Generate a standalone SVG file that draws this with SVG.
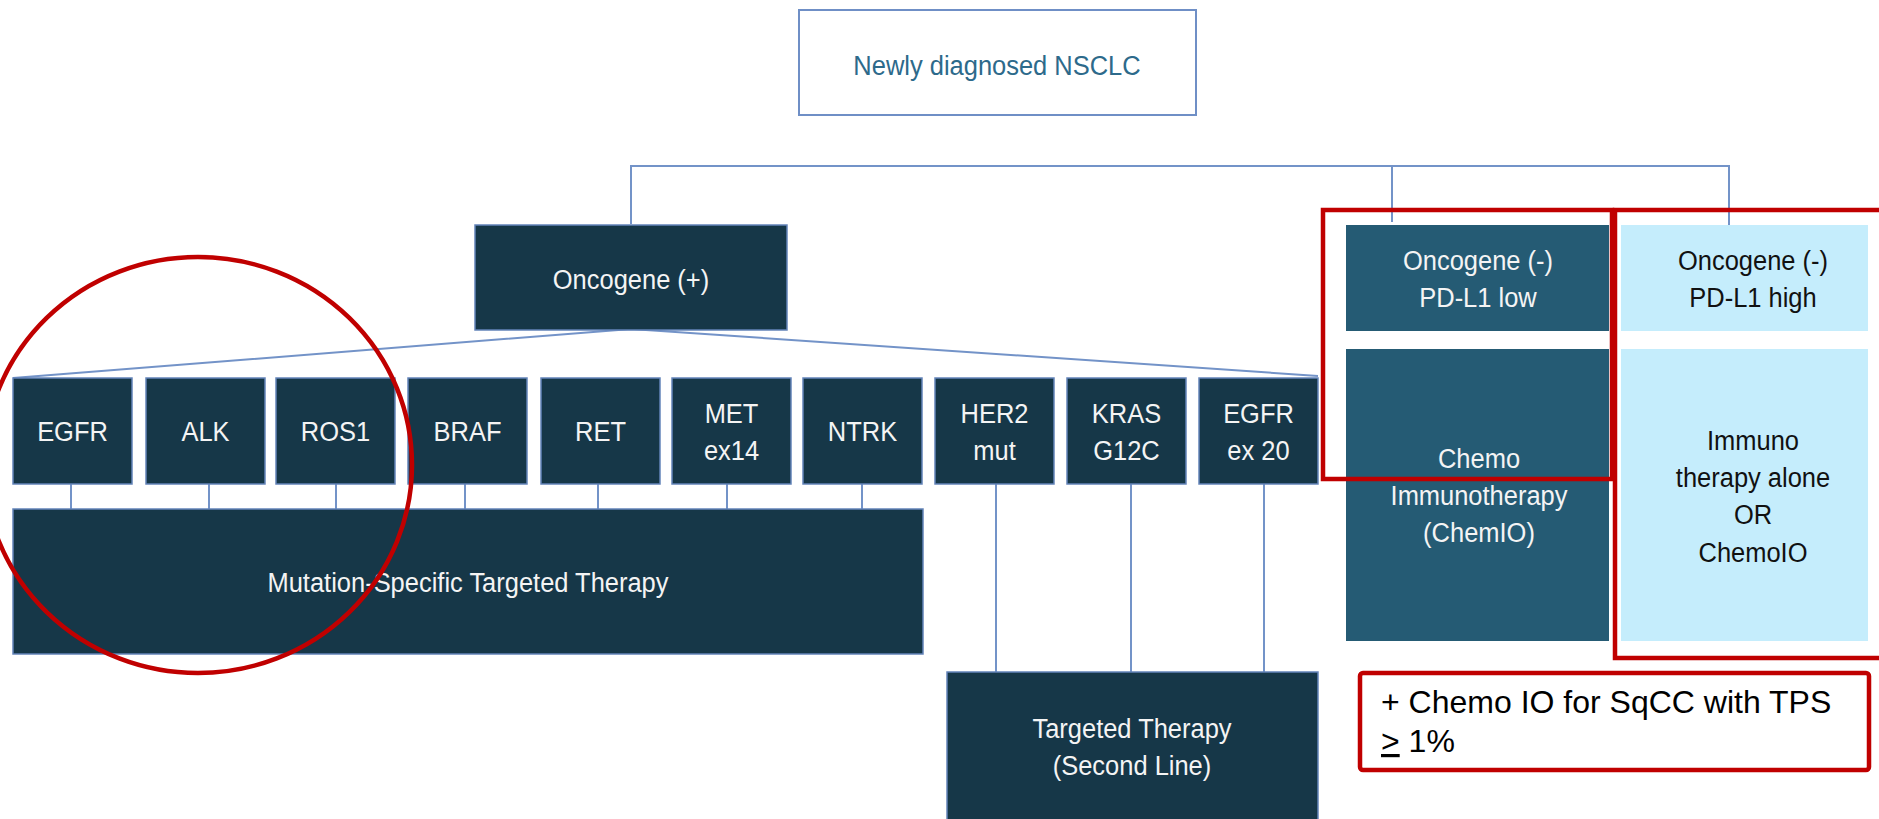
<svg xmlns="http://www.w3.org/2000/svg" width="1879" height="819" viewBox="0 0 1879 819">
  <style>
    .bg { fill: #ffffff; }
    .conn { fill: none; stroke: #7393c8; stroke-width: 2; }
    .dark { fill: #163748; stroke: #6384b9; stroke-width: 1.5; }
    .mid { fill: #255b74; stroke: none; }
    .light { fill: #c5edfc; stroke: none; }
    .root { fill: #ffffff; stroke: #6f8fc6; stroke-width: 2; }
    .t { font-family: "Liberation Sans", Arial, sans-serif; font-size: 28px; text-anchor: middle; }
    .w { fill: #f4f4f4; }
    .k { fill: #111111; }
    .b { fill: #2d6a8b; }
    .note { font-family: "Liberation Sans", Arial, sans-serif; font-size: 32px; fill: #000000; }
    .hl { fill: none; stroke: #c00000; stroke-width: 4.5; }
  </style>

  <rect class="bg" x="0" y="0" width="1879" height="819"/>

  <!-- connectors -->
  <g id="connectors">
    <polyline class="conn" points="631,224 631,166 1729,166 1729,225"/>
    <line class="conn" x1="1392" y1="166" x2="1392" y2="222"/>
    <polyline class="conn" points="13,378 631,329 1318,376"/>
    <line class="conn" x1="71" y1="478" x2="71" y2="509"/>
    <line class="conn" x1="209" y1="478" x2="209" y2="509"/>
    <line class="conn" x1="336" y1="478" x2="336" y2="509"/>
    <line class="conn" x1="465" y1="478" x2="465" y2="509"/>
    <line class="conn" x1="598" y1="478" x2="598" y2="509"/>
    <line class="conn" x1="727" y1="478" x2="727" y2="509"/>
    <line class="conn" x1="862" y1="478" x2="862" y2="509"/>
    <line class="conn" x1="996" y1="478" x2="996" y2="672"/>
    <line class="conn" x1="1131" y1="478" x2="1131" y2="672"/>
    <line class="conn" x1="1264" y1="478" x2="1264" y2="672"/>
  </g>

  <g id="root">
    <rect class="root" x="799" y="10" width="397" height="105"/>
    <text class="t b" transform="translate(997 75) scale(0.91 1)">Newly diagnosed NSCLC</text>
  </g>

  <g id="oncogene-pos">
    <rect class="dark" x="475" y="225" width="312" height="105"/>
    <text class="t w" transform="translate(631 289) scale(0.91 1)">Oncogene (+)</text>
  </g>

  <!-- mutation boxes -->
  <g id="egfr">
    <rect class="dark" x="13" y="378" width="119" height="106"/>
    <text class="t w" transform="translate(72.5 441) scale(0.91 1)">EGFR</text>
  </g>
  <g id="alk">
    <rect class="dark" x="146" y="378" width="119" height="106"/>
    <text class="t w" transform="translate(205.5 441) scale(0.91 1)">ALK</text>
  </g>
  <g id="ros1">
    <rect class="dark" x="276" y="378" width="119" height="106"/>
    <text class="t w" transform="translate(335.5 441) scale(0.91 1)">ROS1</text>
  </g>
  <g id="braf">
    <rect class="dark" x="408" y="378" width="119" height="106"/>
    <text class="t w" transform="translate(467.5 441) scale(0.91 1)">BRAF</text>
  </g>
  <g id="ret">
    <rect class="dark" x="541" y="378" width="119" height="106"/>
    <text class="t w" transform="translate(600.5 441) scale(0.91 1)">RET</text>
  </g>
  <g id="met">
    <rect class="dark" x="672" y="378" width="119" height="106"/>
    <text class="t w" transform="translate(731.5 423) scale(0.91 1)"><tspan x="0" y="0">MET</tspan><tspan x="0" y="37">ex14</tspan></text>
  </g>
  <g id="ntrk">
    <rect class="dark" x="803" y="378" width="119" height="106"/>
    <text class="t w" transform="translate(862.5 441) scale(0.91 1)">NTRK</text>
  </g>
  <g id="her2">
    <rect class="dark" x="935" y="378" width="119" height="106"/>
    <text class="t w" transform="translate(994.5 423) scale(0.91 1)"><tspan x="0" y="0">HER2</tspan><tspan x="0" y="37">mut</tspan></text>
  </g>
  <g id="kras">
    <rect class="dark" x="1067" y="378" width="119" height="106"/>
    <text class="t w" transform="translate(1126.5 423) scale(0.91 1)"><tspan x="0" y="0">KRAS</tspan><tspan x="0" y="37">G12C</tspan></text>
  </g>
  <g id="egfr-ex20">
    <rect class="dark" x="1199" y="378" width="119" height="106"/>
    <text class="t w" transform="translate(1258.5 423) scale(0.91 1)"><tspan x="0" y="0">EGFR</tspan><tspan x="0" y="37">ex 20</tspan></text>
  </g>

  <g id="mutation-specific">
    <rect class="dark" x="13" y="509" width="910" height="145"/>
    <text class="t w" transform="translate(468 592) scale(0.91 1)">Mutation-Specific Targeted Therapy</text>
  </g>

  <g id="targeted-second-line">
    <rect class="dark" x="947" y="672" width="371" height="150"/>
    <text class="t w" transform="translate(1132 738) scale(0.91 1)"><tspan x="0" y="0">Targeted Therapy</tspan><tspan x="0" y="37">(Second Line)</tspan></text>
  </g>

  <g id="pdl1-low">
    <rect class="mid" x="1346" y="225" width="263" height="106"/>
    <text class="t w" transform="translate(1478 270) scale(0.91 1)"><tspan x="0" y="0">Oncogene (-)</tspan><tspan x="0" y="37">PD-L1 low</tspan></text>
  </g>
  <g id="chemo-io">
    <rect class="mid" x="1346" y="349" width="263" height="292"/>
    <text class="t w" transform="translate(1479 468) scale(0.91 1)"><tspan x="0" y="0">Chemo</tspan><tspan x="0" y="37">Immunotherapy</tspan><tspan x="0" y="74">(ChemIO)</tspan></text>
  </g>

  <g id="pdl1-high">
    <rect class="light" x="1621" y="225" width="247" height="106"/>
    <text class="t k" transform="translate(1753 270) scale(0.91 1)"><tspan x="0" y="0">Oncogene (-)</tspan><tspan x="0" y="37">PD-L1 high</tspan></text>
  </g>
  <g id="immuno-alone">
    <rect class="light" x="1621" y="349" width="247" height="292"/>
    <text class="t k" transform="translate(1753 450) scale(0.91 1)"><tspan x="0" y="0">Immuno</tspan><tspan x="0" y="37">therapy alone</tspan><tspan x="0" y="74">OR</tspan><tspan x="0" y="112">ChemoIO</tspan></text>
  </g>

  <!-- red highlight marks -->
  <g id="highlights">
    <ellipse class="hl" cx="198" cy="465" rx="214" ry="208"/>
    <rect class="hl" x="1323" y="210" width="289" height="269"/>
    <rect class="hl" x="1615" y="210" width="290" height="448"/>
  </g>

  <g id="sqcc-note">
    <rect class="hl" x="1360" y="673" width="509" height="97" rx="3"/>
    <text class="note" x="1381" y="713">+ Chemo IO for SqCC with TPS</text>
    <text class="note" x="1381" y="752"><tspan text-decoration="underline">&gt;</tspan> 1%</text>
  </g>
</svg>
